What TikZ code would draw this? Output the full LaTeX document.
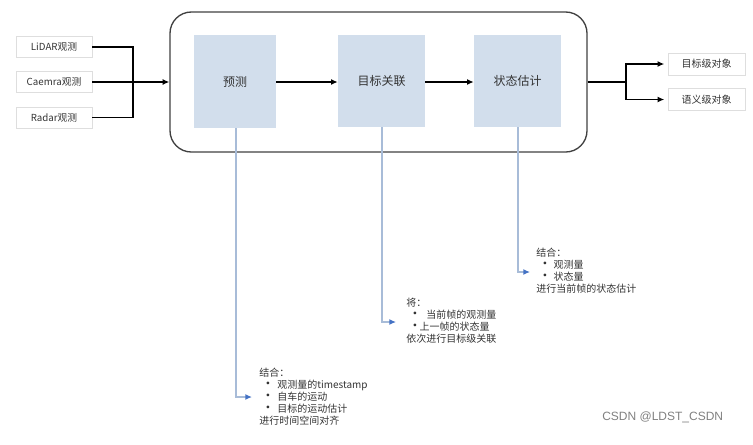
\documentclass[tikz,border=0pt]{standalone}
\usepackage{fontspec}
\setmainfont{Noto Sans CJK SC}
\newfontfamily\wmfont{Liberation Sans}
\usetikzlibrary{arrows.meta}
\definecolor{boxblue}{HTML}{D2DEEC}
\definecolor{lineblue}{HTML}{A8BCD8}
\definecolor{tipblue}{HTML}{4472C4}
\definecolor{txt}{HTML}{333333}
\tikzset{
  inbox/.style={draw=black!13, line width=0.6pt, minimum width=57pt, minimum height=15.75pt, inner sep=0pt, font=\fontsize{7.3pt}{8pt}\selectfont, text=txt},
  bluebox/.style={fill=boxblue, minimum width=65.25pt, minimum height=69pt, inner sep=0pt, font=\fontsize{9pt}{10pt}\selectfont, text=txt},
  bigbox/.style={draw=black!75, line width=1pt, rounded corners=16pt, minimum width=312.75pt, minimum height=105pt, inner sep=0pt},
  blk/.style={line width=1.3pt, black},
  blkarrow/.style={blk, -{Latex[length=5pt,width=4.5pt]}},
  noteline/.style={lineblue, line width=1pt, -{Latex[length=5pt,width=4.5pt,color=tipblue]}},
  note/.style={anchor=west, align=left, inner sep=0pt, text=txt, font=\fontsize{7.5pt}{9pt}\selectfont},
}
\newcommand{\bul}[1]{\makebox[#1][l]{\hspace{1.5pt}\raisebox{0.3pt}{\fontsize{10pt}{9pt}\selectfont •}}}
\begin{document}
\begin{tikzpicture}[x=0.75pt,y=-0.75pt]
\useasboundingbox (0,0) rectangle (753,444);
% big container
\node[bigbox] (big) at (378.5,82) {};
% inputs
\node[inbox] (lidar) at (54,47) {LiDAR观测};
\node[inbox] (caemra) at (54,82) {Caemra观测};
\node[inbox] (radar) at (54,117.5) {Radar观测};
\coordinate (jin) at (133,82);
\draw[blk] (lidar.east) -| (jin);
\draw[blk] (radar.east) -| (jin);
\draw[blkarrow] (caemra.east) -- (caemra.east -| big.west);
% blue boxes
\node[bluebox, minimum width=61.5pt, minimum height=69.75pt] (pred) at (235,81.5) {预测};
\node[bluebox] (assoc) at (381.5,81) {目标关联};
\node[bluebox] (est) at (517.5,81) {状态估计};
\draw[blkarrow] (pred.east |- 0,82) -- (assoc.west |- 0,82);
\draw[blkarrow] (assoc.east |- 0,82) -- (est.west |- 0,82);
% outputs
\node[inbox, minimum width=57.75pt, minimum height=16.5pt, font=\fontsize{7.5pt}{8pt}\selectfont] (out1) at (706.5,64) {目标级对象};
\node[inbox, minimum width=57.75pt, minimum height=16.5pt, font=\fontsize{7.5pt}{8pt}\selectfont] (out2) at (706.5,99.5) {语义级对象};
\coordinate (jout) at (626,82);
\draw[blk] (big.east |- jout) -- (jout);
\draw[blkarrow, shorten >=2.5pt] (jout) |- (out1.west);
\draw[blkarrow, shorten >=2.5pt] (jout) |- (out2.west);
% notes
\node[note] (n1) at (259,397) {结合：\\\bul{13.5pt}观测量的timestamp\\\bul{13.5pt}自车的运动\\\bul{13.5pt}目标的运动估计\\进行时间空间对齐};
\node[note] (n2) at (406,321) {将：\\\bul{15pt}当前帧的观测量\\\bul{10pt}上一帧的状态量\\依次进行目标级关联};
\node[note] (n3) at (536,271) {结合：\\\bul{13pt}观测量\\\bul{13pt}状态量\\进行当前帧的状态估计};
\coordinate (a1) at (252,397);
\coordinate (a2) at (396,322);
\coordinate (a3) at (530,272);
\draw[noteline] (pred.south -| 236,0) |- (a1);
\draw[noteline] (assoc.south -| 382,0) |- (a2);
\draw[noteline] (est.south -| 518,0) |- (a3);
% watermark
\node[anchor=west, inner sep=0pt, text=black!50, font=\wmfont\fontsize{9pt}{10pt}\selectfont] (wm) at (602,417) {CSDN @LDST\_CSDN};
\end{tikzpicture}
\end{document}
